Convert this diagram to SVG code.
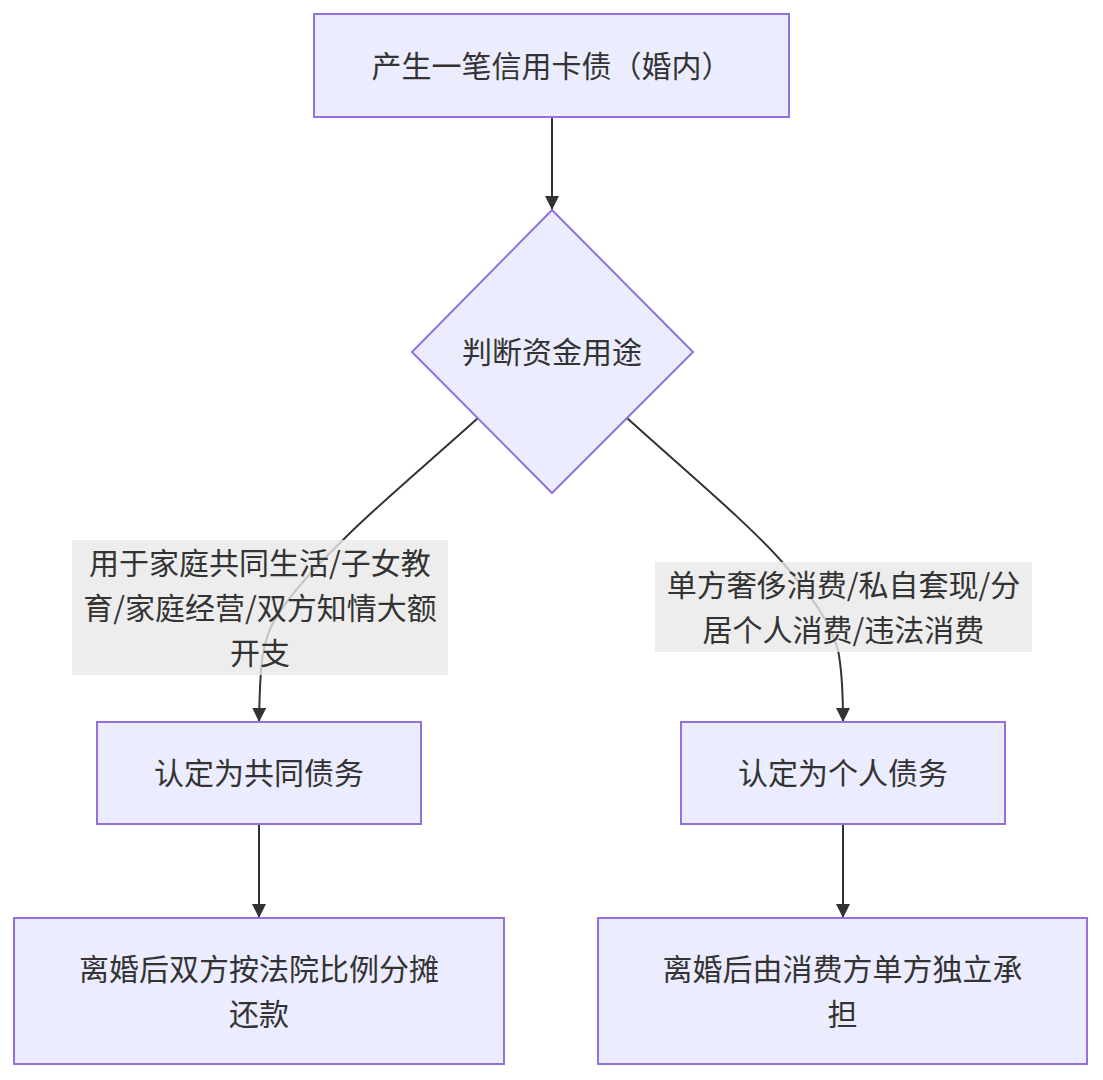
<svg xmlns="http://www.w3.org/2000/svg" width="1103" height="1080" viewBox="0 0 1103 1080">
<style>
.node{fill:#ECECFF;stroke:#9370DB;stroke-width:2}
.lbl{fill:rgba(232,232,232,0.8);stroke:none}
.edge{fill:none;stroke:#333;stroke-width:2}
text{font-family:"Noto Sans CJK SC","Noto Sans",sans-serif;font-size:30px;fill:#333;text-anchor:middle;dominant-baseline:central}
</style>
<defs>
<marker id="arr" viewBox="0 0 10 10" refX="10" refY="5" markerWidth="14" markerHeight="14" markerUnits="userSpaceOnUse" orient="auto">
<path d="M0,0 L10,5 L0,10 z" fill="#333"/>
</marker>
</defs>
<rect width="1103" height="1080" fill="#fff"/>
<g id="connectors">
<path class="edge" d="M552,117 L552,210" marker-end="url(#arr)"/>
<path class="edge" d="M478,418 C420,470 370,512 343,540 C310,572 285,600 272,625 C262,645 260,665 259,722" marker-end="url(#arr)"/>
<path class="edge" d="M627,418 C690,475 750,525 783,563 C810,595 830,620 838,650 C842,670 843,690 843,722" marker-end="url(#arr)"/>
<path class="edge" d="M259,824 L259,918" marker-end="url(#arr)"/>
<path class="edge" d="M843,824 L843,918" marker-end="url(#arr)"/>
</g>
<g id="label-left">
<rect class="lbl" x="72" y="540" width="376" height="135"/>
<text x="260" y="561">用于家庭共同生活/子女教</text>
<text x="260" y="606">育/家庭经营/双方知情大额</text>
<text x="260" y="651">开支</text>
</g>
<g id="label-right">
<rect class="lbl" x="655" y="562" width="377" height="90"/>
<text x="843.5" y="583">单方奢侈消费/私自套现/分</text>
<text x="843.5" y="628">居个人消费/违法消费</text>
</g>
<g id="start">
<rect class="node" x="314" y="14" width="475" height="103"/>
<text x="551.5" y="64">产生一笔信用卡债（婚内）</text>
</g>
<g id="decide">
<polygon class="node" points="552,210 693,352 552,493 412,352"/>
<text x="552" y="350">判断资金用途</text>
</g>
<g id="joint">
<rect class="node" x="97" y="722" width="324" height="102"/>
<text x="259" y="771">认定为共同债务</text>
</g>
<g id="personal">
<rect class="node" x="681" y="722" width="324" height="102"/>
<text x="843" y="771">认定为个人债务</text>
</g>
<g id="joint-repay">
<rect class="node" x="14" y="918" width="490" height="146"/>
<text x="259" y="967">离婚后双方按法院比例分摊</text>
<text x="259" y="1012">还款</text>
</g>
<g id="personal-repay">
<rect class="node" x="598" y="918" width="489" height="146"/>
<text x="842.5" y="967">离婚后由消费方单方独立承</text>
<text x="842.5" y="1012">担</text>
</g>
</svg>
